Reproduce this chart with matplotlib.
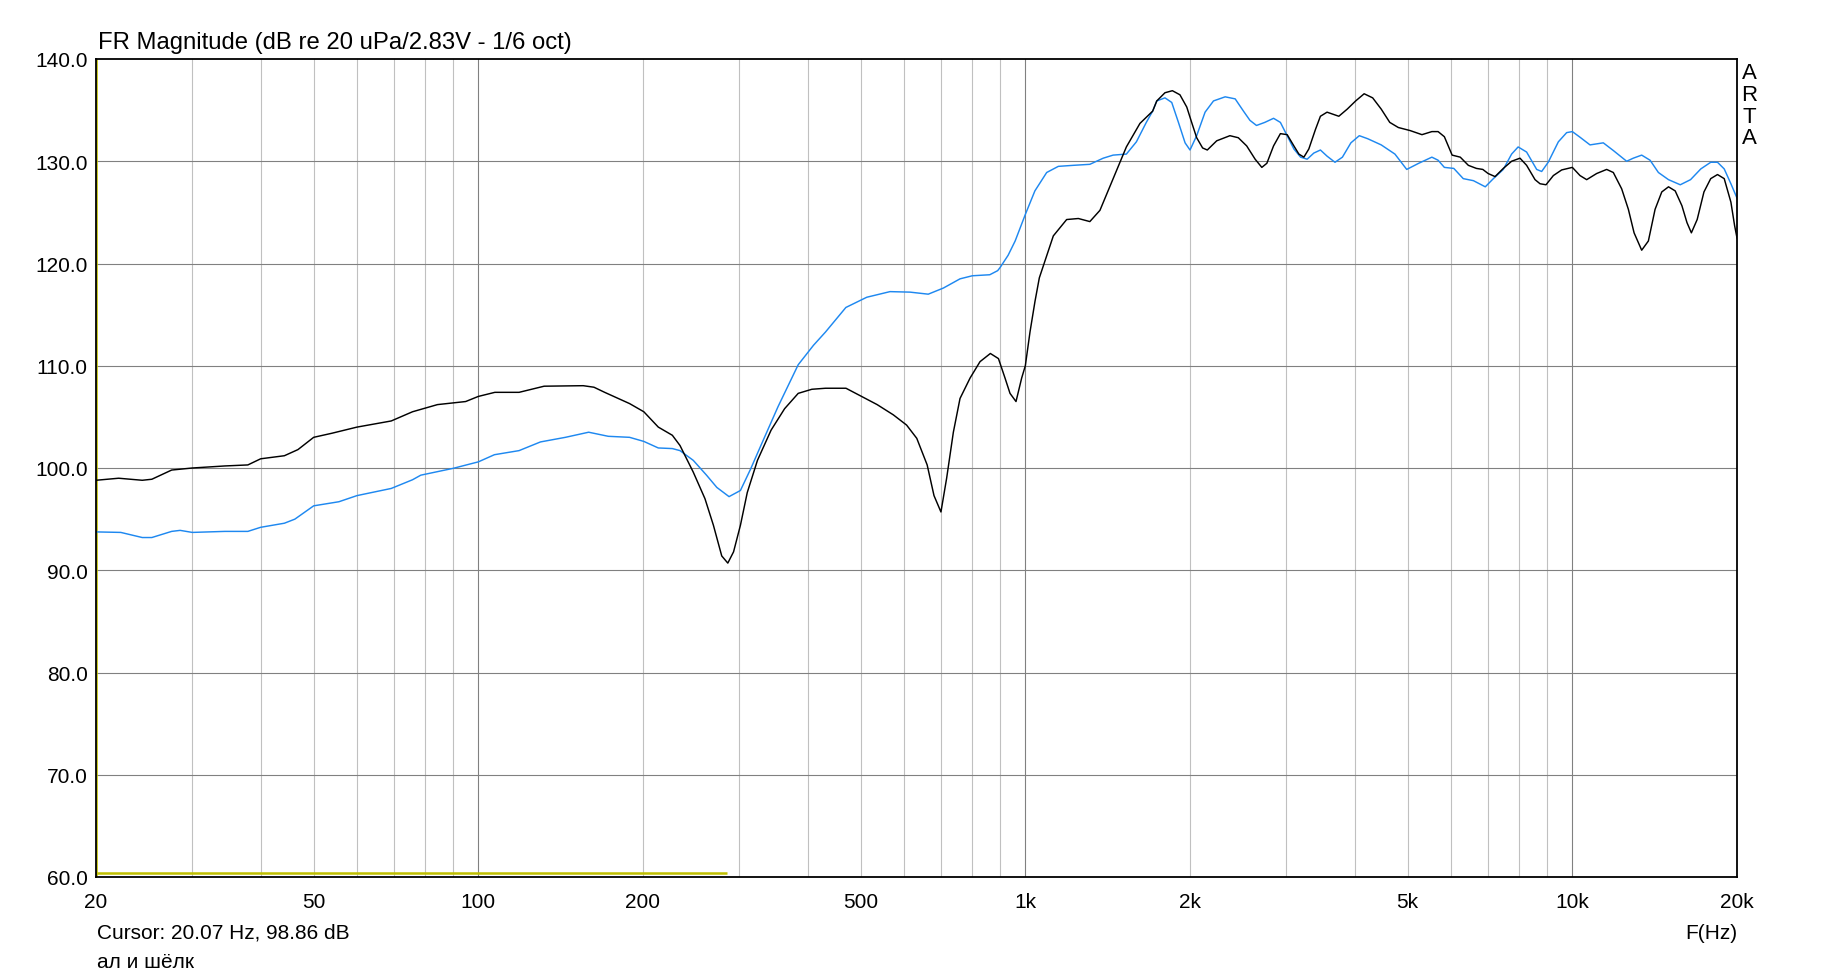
import matplotlib
matplotlib.use("Agg")
import matplotlib.pyplot as plt
from matplotlib.ticker import FixedLocator, NullFormatter

plt.rcParams['font.family'] = ['Liberation Sans', 'DejaVu Sans']

# ---------------- data ----------------
black_f = [20, 22.0, 24.3, 25.3, 27.5, 30, 34.4, 37.9, 40, 44.2, 46.8, 50, 54.0, 60, 69.3,
           75.8, 84.2, 94.8, 100, 107.2, 118.7, 131.9, 155.5, 162.7, 170.2, 189.0, 200.7,
           213.3, 226.3,
           233.7, 247.1, 259.6, 269.0, 278.6, 285.8, 292.8, 301.4, 310.2, 323.8, 342.9,
           363.0, 384.4, 407.1, 431.2, 470.0, 497.7, 535.9, 573.6, 606.6, 633.2, 661.5,
           680.8, 701.0, 718.0, 738.6, 759.6, 792.5, 826.3, 863.1, 893.0, 918.0, 937.5,
           961.5, 984.7, 1000, 1019.8, 1041.5, 1060.7,
           1079, 1125, 1190, 1250, 1312, 1369, 1447, 1530, 1620,
           1709, 1739, 1800, 1857, 1917, 1973, 2014, 2057, 2109, 2151, 2238, 2366, 2451,
           2539, 2631, 2706, 2764, 2843, 2926, 3011, 3097, 3163, 3230, 3298, 3391, 3463,
           3561, 3742, 3877, 4017, 4163, 4315, 4473, 4637, 4807, 5052, 5310, 5536, 5683,
           5835,
           6029, 6239, 6455, 6678, 6860, 7015, 7223, 7478, 7744, 8022, 8249, 8547, 8728,
           8951, 9232, 9561, 10000, 10328, 10622, 11078, 11555, 11883, 12309, 12660, 12968,
           13390, 13772, 14167, 14572, 14990, 15419, 15861, 16202, 16505, 16913, 17403,
           17905, 18424, 18952, 19493, 19800, 20000]
black_db = [98.8, 99.0, 98.8, 98.9, 99.8, 100.0, 100.2, 100.3, 100.9, 101.2, 101.8, 103.0,
            103.4, 104.0, 104.6, 105.5, 106.2, 106.5, 107.0, 107.4, 107.4, 108.0, 108.05,
            107.9, 107.4, 106.3, 105.5, 104.0, 103.2,
            102.2, 99.6, 97.0, 94.4, 91.4, 90.7, 91.8, 94.4, 97.6, 100.75, 103.7,
            105.8, 107.3, 107.7, 107.8, 107.8, 107.1, 106.2, 105.2, 104.2, 102.9, 100.3,
            97.3, 95.7, 99.0, 103.5, 106.8, 108.8, 110.4, 111.2, 110.7, 108.8, 107.3,
            106.5, 108.8, 110.0, 113.3, 116.3, 118.6,
            119.8, 122.7, 124.3, 124.4, 124.1, 125.2, 128.3, 131.4, 133.7,
            134.9, 135.9, 136.7, 136.9, 136.5, 135.3, 133.8, 132.3, 131.3, 131.1, 132.0,
            132.5, 132.3, 131.5, 130.2, 129.4, 129.8, 131.5, 132.7, 132.6, 131.5, 130.7,
            130.4, 131.2, 133.1, 134.4, 134.8, 134.4, 135.1, 135.9, 136.6, 136.2, 135.1,
            133.8, 133.3, 133.0, 132.6, 132.9, 132.9, 132.4,
            130.6, 130.4, 129.6, 129.3, 129.2, 128.8, 128.5, 129.3, 130.0, 130.3, 129.6,
            128.2, 127.8, 127.7, 128.6, 129.15, 129.4, 128.6, 128.2, 128.8, 129.2, 128.9,
            127.3, 125.3, 123.0, 121.3, 122.2, 125.3, 127.0, 127.5, 127.1, 125.65, 124.0,
            123.0, 124.3, 127.0, 128.3, 128.7, 128.3, 126.0, 123.7, 122.5]

blue_f = [20, 22.2, 24.3, 25.3, 27.5, 28.5, 30, 34.4, 37.9, 40, 44.2, 46.2, 50, 55.6, 60,
          69.3, 75.8, 78.5, 90, 100, 107, 118.7, 129.9, 144.3, 159.1, 172.8, 189.0, 200.7,
          213.3, 226.3,
          233.7, 247.1, 261.3, 272.9, 287.3, 301.4, 314.6, 328.5, 353.1, 384.4, 409.9,
          431.2, 469.8, 513.0, 565.7, 615.4, 664.5, 708.3, 759.6, 800, 861, 890,
          899, 930, 958, 1000, 1041, 1094, 1149, 1223, 1312, 1388, 1447, 1530, 1596, 1664,
          1709, 1739, 1800, 1852, 1905, 1959, 2000, 2057, 2131, 2208, 2319, 2419, 2505,
          2574, 2646, 2740, 2843, 2926, 3011, 3097, 3186, 3275, 3368, 3463, 3561, 3682,
          3799, 3937, 4079, 4227, 4473, 4739, 4980, 5237, 5536, 5683, 5835,
          6071, 6318, 6595, 6932, 7172, 7478, 7744, 7960, 8249, 8606, 8789, 9034, 9428,
          9764, 10000, 10328, 10772, 11392, 11883, 12569, 12924, 13390, 13871, 14366,
          14990, 15751, 16448, 17173, 17905, 18424, 18952, 19493, 20000]
blue_db = [93.75, 93.7, 93.2, 93.2, 93.8, 93.9, 93.7, 93.8, 93.8, 94.2, 94.6, 95.0, 96.3,
           96.7, 97.3, 98.0, 98.85, 99.3, 99.97, 100.6, 101.3, 101.7, 102.55, 103.0, 103.5,
           103.1, 103.0, 102.6, 101.96, 101.9,
           101.7, 100.75, 99.3, 98.1, 97.2, 97.8, 99.9, 102.2, 106.0, 110.1, 112.0,
           113.3, 115.7, 116.7, 117.25, 117.2, 117.0, 117.6, 118.5, 118.8, 118.9, 119.3,
           119.6, 120.8, 122.2, 124.8, 127.1, 128.9, 129.5, 129.6, 129.7, 130.3, 130.6,
           130.7, 131.9, 133.8,
           134.9, 135.9, 136.2, 135.75, 133.8, 131.8, 131.1, 132.5, 134.8, 135.9, 136.3,
           136.1, 134.9, 134.0, 133.5, 133.8, 134.2, 133.8, 132.5, 131.2, 130.4, 130.2,
           130.8, 131.1, 130.5, 129.9, 130.4, 131.8, 132.5, 132.2, 131.6, 130.7, 129.2,
           129.8, 130.4, 130.1, 129.4,
           129.3, 128.3, 128.1, 127.5, 128.3, 129.2, 130.7, 131.4, 130.9, 129.2, 129.0,
           129.9, 131.9, 132.8, 132.9, 132.35, 131.6, 131.8, 131.05, 130.0, 130.3, 130.6,
           130.1, 128.9, 128.2, 127.7, 128.2, 129.25, 129.9, 129.9, 129.25, 127.8, 126.4]

yellow_f = [20, 285]
yellow_db = [60.35, 60.35]
cursor_f = 20.07

x_ticks = [20, 50, 100, 200, 500, 1000, 2000, 5000, 10000, 20000]
x_ticklabels = ['20', '50', '100', '200', '500', '1k', '2k', '5k', '10k', '20k']
y_ticks = [60, 70, 80, 90, 100, 110, 120, 130, 140]
y_ticklabels = ['%.1f' % v for v in y_ticks]
minor_f = [30, 40, 50, 60, 70, 80, 90, 200, 300, 400, 500, 600, 700, 800, 900,
           2000, 3000, 4000, 5000, 6000, 7000, 8000, 9000]
major_f = [100, 1000, 10000]

# ---------------- figure ----------------
W, H = 1833, 978
FS = 15.0
fig = plt.figure(figsize=(W / 100, H / 100), dpi=100)
L, R, T, B = 96, 1737, 60, 878
ax = fig.add_axes([L / W, 1 - B / H, (R - L) / W, (B - T) / H])
ax.set_xscale('log')
ax.set_xlim(20, 20000)
ax.set_ylim(60, 140)

for f in minor_f:
    ax.axvline(f, color='#c0c0c0', lw=0.8, zorder=1)
for f in major_f:
    ax.axvline(f, color='#808080', lw=0.8, zorder=1)
for v in y_ticks[1:-1]:
    ax.axhline(v, color='#808080', lw=0.8, zorder=1)

ax.plot(yellow_f, yellow_db, color='#c0c000', lw=1.8, zorder=2, solid_capstyle='butt')
ax.axvline(cursor_f, color='#c0c000', lw=1.2, zorder=2)
ax.plot(blue_f, blue_db, color='#1e88f0', lw=1.05, zorder=3)
ax.plot(black_f, black_db, color='black', lw=1.05, zorder=4)

ax.xaxis.set_major_locator(FixedLocator(x_ticks))
ax.set_xticklabels(x_ticklabels)
ax.xaxis.set_minor_formatter(NullFormatter())
ax.xaxis.set_minor_locator(FixedLocator([]))
ax.set_yticks(y_ticks)
ax.set_yticklabels(y_ticklabels)
ax.tick_params(axis='both', length=0, labelsize=FS, colors='black')
ax.tick_params(axis='x', pad=11)
ax.tick_params(axis='y', pad=6)
for s in ax.spines.values():
    s.set_linewidth(1.3)
    s.set_color('black')
    s.set_zorder(5)

def ftext(x, y, s, size=FS, **kw):
    fig.text(x / W, 1 - y / H, s, fontsize=size, color='black', **kw)

ftext(98, 49, 'FR Magnitude (dB re 20 uPa/2.83V - 1/6 oct)', size=17.2, ha='left', va='baseline')
ftext(97, 939, 'Cursor: 20.07 Hz, 98.86 dB', ha='left', va='baseline')
ftext(97, 968, 'ал и шёлк', ha='left', va='baseline')
ftext(1737, 939, 'F(Hz)', ha='right', va='baseline')
for i, ch in enumerate('ARTA'):
    ftext(1749, 79 + i * 21.8, ch, size=16, ha='center', va='baseline')

fig.savefig('out.png', dpi=100, facecolor='white')
